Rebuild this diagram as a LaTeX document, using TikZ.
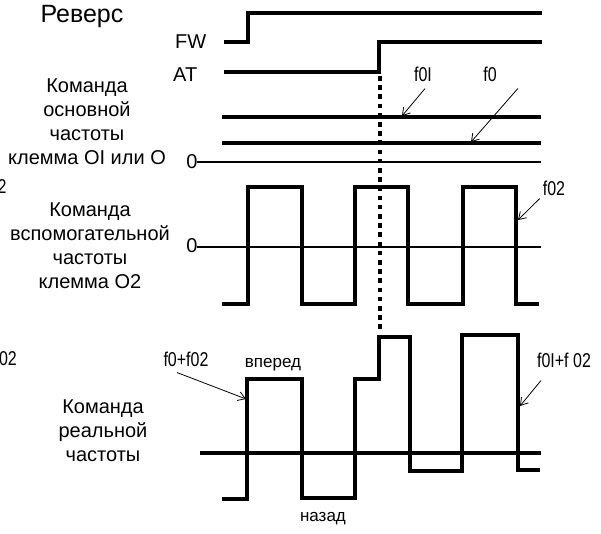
\documentclass[tikz,border=0pt]{standalone}
\usepackage{fontspec}
\setmainfont{Liberation Sans}
\newfontfamily\narrowfont[FakeStretch=0.8]{Liberation Sans}
\usetikzlibrary{arrows.meta,positioning}

\begin{document}
\begin{tikzpicture}[x=1pt,y=-1pt,
    sig/.style={line width=4pt},
    axis/.style={line width=1.6pt},
    ptr/.style={-{Straight Barb[length=7pt,width=9pt]},line width=0.8pt},
    lbl/.style={font=\fontsize{20}{24}\selectfont, align=center, inner sep=0pt},
    flbl/.style={font=\narrowfont\fontsize{20}{24}\selectfont, inner sep=0pt},
    note/.style={font=\fontsize{17}{20}\selectfont, inner sep=0pt}]
    \useasboundingbox (0,0) rectangle (601,534);

    % Reverse (FW / AT)
    \draw[sig] (224,42) -- (248,42) -- (248,13) -- (542,13);
    \draw[sig] (224,72) -- (379,72) -- (379,42) -- (542,42);
    \node[font=\fontsize{25}{30}\selectfont, inner sep=0pt, anchor=north] (rev) at (82,5) {Реверс};
    \node[lbl, anchor=north west] (fw) at (175,35) {FW};
    \node[lbl, anchor=north west] (at) at (173,68) {AT};

    % Main frequency command
    \draw[sig] (222,117) -- (541,117);
    \draw[sig] (222,143) -- (541,143);
    \draw[axis] (197,162) -- (541,162);
    \node[lbl] (zeroA) at (192,162) {0};
    \node[lbl, anchor=north] (cmdA) at (87,79) {Команда\\основной\\частоты\\клемма OI или O};
    \node[flbl] (foi) at (423,74) {f0I};
    \node[flbl] (fo) at (490,74) {f0};
    \coordinate (foiEnd) at (402,116);
    \coordinate (foEnd) at (471,142);
    \draw[ptr] ([shift={(2,7)}]foi.south) -- (foiEnd);
    \draw[ptr] ([shift={(21,7)}]fo.south east) -- (foEnd);

    % AT switch moment
    \draw[line width=4pt, dash pattern=on 4.6pt off 4.6pt] (380,76) -- (380,333);

    % Auxiliary frequency command
    \draw[axis] (197,247) -- (541,247);
    \node[lbl] (zeroB) at (192,246) {0};
    \draw[sig] (222,304) -- (248,304) -- (248,187) -- (302,187) -- (302,304)
        -- (355,304) -- (355,187) -- (408,187) -- (408,304)
        -- (463,304) -- (463,187) -- (516,187) -- (516,304) -- (539,304);
    \node[lbl, anchor=north] (cmdB) at (90,203) {Команда\\вспомогательной\\частоты\\клемма O2};
    \node[flbl] (fii) at (554,188) {f02};
    \coordinate (fiiEnd) at (518,220);
    \draw[ptr] ([shift={(-3,3)}]fii.south west) -- (fiiEnd);

    % Real frequency command
    \draw[sig] (200,453) -- (541,453);
    \draw[sig] (222,499) -- (247,499) -- (247,379) -- (302,379) -- (302,498)
        -- (355,498) -- (355,379) -- (379,379) -- (379,337) -- (410,337)
        -- (410,471) -- (462,471) -- (462,335) -- (518,335) -- (518,470) -- (540,470);
    \node[lbl, anchor=north] (cmdC) at (103,400) {Команда\\реальной\\частоты};
    \node[flbl] (fsum) at (186,359) {f0+f02};
    \node[note, anchor=base] (fwd) at (273,367) {вперед};
    \node[note, anchor=base] (back) at (323,521) {назад};
    \node[flbl] (fisum) at (564,360) {f0I+f 02};
    \coordinate (fsumEnd) at (246,399);
    \coordinate (fisumEnd) at (520,406);
    \draw[ptr] ([shift={(-9,6)}]fsum.south) -- (fsumEnd);
    \draw[ptr] ([shift={(-23,13)}]fisum.south) -- (fisumEnd);

    % cut-off labels at the left edge
    \node[flbl] (cutA) at (2,187) {2};
    \node[flbl] (cutB) at (8,359) {02};
\end{tikzpicture}
\end{document}
